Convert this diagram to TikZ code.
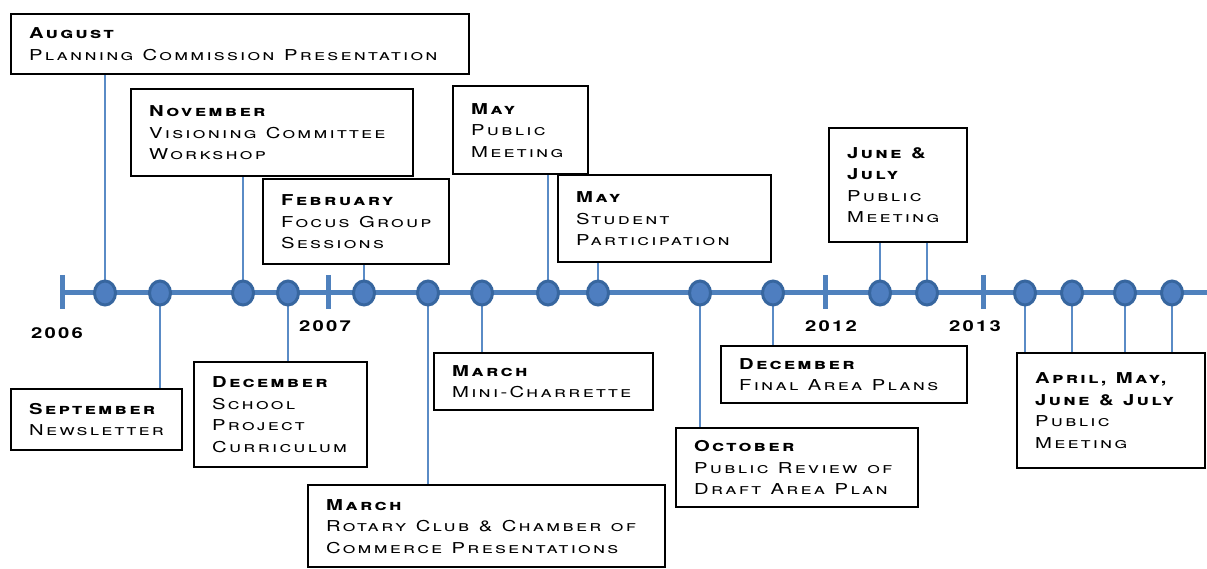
\documentclass[tikz,border=0pt]{standalone}
\usepackage{fontspec}
\setmainfont{TeX Gyre Heros}[FakeStretch=1.35, LetterSpace=15]
\usetikzlibrary{shapes.geometric}

\definecolor{lineblue}{HTML}{4F81BD}
\definecolor{stemblue}{HTML}{5A8BC6}
\definecolor{dotrim}{HTML}{37669F}
\definecolor{dotfill}{HTML}{4E7EC0}

\newcommand\evfont{\fontsize{15}{21.5}\selectfont\scshape}
\newcommand\ws{\hspace{9.5pt}} % wide word space

\tikzset{
  evbox/.style 2 args={draw, line width=2.4pt, fill=white, anchor=north west,
    minimum width=#1, minimum height=#2, text width=#1-36pt, inner xsep=18pt,
    inner ysep=3pt, align=left, font=\evfont},
  dot/.style={ellipse, draw=dotrim, line width=3pt, fill=dotfill,
    minimum width=21pt, minimum height=24pt, inner sep=0pt},
  stem/.style={stemblue, line width=2.4pt},
  year/.style={font=\fontsize{15}{15}\selectfont\bfseries}
}

\begin{document}
\begin{tikzpicture}[x=1pt, y=-1pt]
\useasboundingbox (0,0) rectangle (1207,569);

% the events above the line
\node[evbox={458}{60}] (aug) at (10,13) {\textbf{August}\\Planning\ws Commission\ws Presentation};
\node[evbox={282}{87}] (nov) at (130,88) {\textbf{November}\\Visioning\ws Committee\\Workshop};
\node[evbox={186}{85}] (feb) at (262,178) {\textbf{February}\\\mbox{Focus\ws Group}\\Sessions};
\node[evbox={135}{88}] (maypm) at (452,85) {\textbf{May}\\Public\\Meeting};
\node[evbox={213}{87}] (mayst) at (557,174) {\textbf{May}\\Student\\Participation};
\node[evbox={138}{114}] (junjul) at (828,127) {\textbf{June\ws\&}\\\textbf{July}\\Public\\Meeting};

% the events below the line
\node[evbox={171}{61}] (sep) at (10,388) {\textbf{September}\\Newsletter};
\node[evbox={173}{105}] (decsc) at (193,361) {\textbf{December}\\School\\Project\\Curriculum};
\node[evbox={357}{82}] (marrot) at (307,484) {\textbf{March}\\Rotary\ws Club\ws\&\ws Chamber\ws of\\Commerce\ws Presentations};
\node[evbox={219}{57}] (marmini) at (433,352) {\textbf{March}\\Mini-Charrette};
\node[evbox={242}{79}] (oct) at (675,427) {\textbf{October}\\Public\ws Review\ws of\\Draft\ws Area\ws Plan};
\node[evbox={246}{57}] (decfin) at (720,345) {\textbf{December}\\Final\ws Area\ws Plans};
\node[evbox={188}{115}] (apr) at (1016,352) {\textbf{April,\ws May,}\\\textbf{June\ws\&\ws July}\\Public\\Meeting};

% the dots
\foreach \x [count=\i] in {105,160,243,288,364,428,482,548,598,700,773,880,927,1025,1072,1125,1172}
  \coordinate (c\i) at (\x,293);

% stems from the dots to the boxes
\draw[stem] (c1) -- (c1 |- aug.south);
\draw[stem] (c2) -- (c2 |- sep.north);
\draw[stem] (c3) -- (c3 |- nov.south);
\draw[stem] (c4) -- (c4 |- decsc.north);
\draw[stem] (c5) -- (c5 |- feb.south);
\draw[stem] (c6) -- (c6 |- marrot.north);
\draw[stem] (c7) -- (c7 |- marmini.north);
\draw[stem] (c8) -- (c8 |- maypm.south);
\draw[stem] (c9) -- (c9 |- mayst.south);
\draw[stem] (c10) -- (c10 |- oct.north);
\draw[stem] (c11) -- (c11 |- decfin.north);
\draw[stem] (c12) -- (c12 |- junjul.south);
\draw[stem] (c13) -- (c13 |- junjul.south);
\foreach \i in {14,...,17}
  \draw[stem] (c\i) -- (c\i |- apr.north);

% the time line and the year ticks
\coordinate (start) at (62,293);
\coordinate (end) at (1207,293);
\draw[lineblue, line width=5pt] (start) -- (end);
\foreach \x in {62,328,825,983}
  \draw[lineblue, line width=5pt] (\x,275) -- (\x,309);

\foreach \i in {1,...,17}
  \node[dot] (d\i) at (c\i) {};

% the years
\node[year] (y2006) at (57,333) {2006};
\node[year] (y2007) at (325,326) {2007};
\node[year] (y2012) at (831,326) {2012};
\node[year] (y2013) at (975,326) {2013};

\end{tikzpicture}
\end{document}
